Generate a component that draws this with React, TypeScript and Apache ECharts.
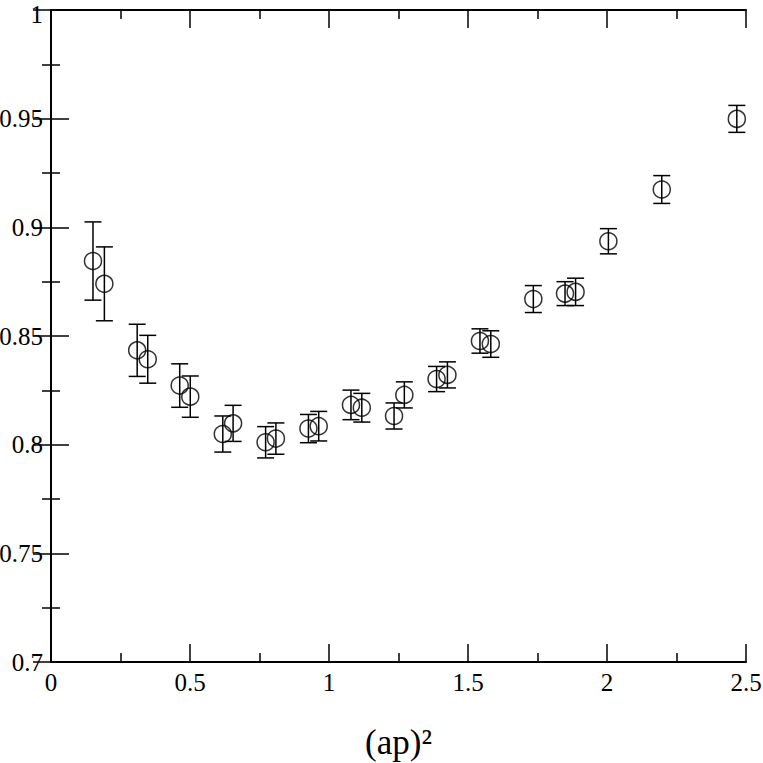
import React, { useEffect, useRef } from "react";
import * as echarts from "echarts";

const xValues = [0.151, 0.192, 0.310, 0.348, 0.463, 0.501, 0.618, 0.655, 0.772, 0.809, 0.926, 0.963, 1.079, 1.118, 1.234, 1.271, 1.387, 1.426, 1.543, 1.582, 1.735, 1.849, 1.887, 2.005, 2.197, 2.467];
const yValues = [0.8845, 0.874, 0.8434, 0.8393, 0.8272, 0.8221, 0.8049, 0.8098, 0.8011, 0.8028, 0.8074, 0.8085, 0.8183, 0.817, 0.8132, 0.8229, 0.8302, 0.8321, 0.8477, 0.8463, 0.867, 0.8695, 0.8703, 0.8936, 0.9174, 0.9499];
const yErrors = [0.018, 0.017, 0.012, 0.011, 0.010, 0.0095, 0.0083, 0.0083, 0.0072, 0.0072, 0.0065, 0.0068, 0.0068, 0.0066, 0.006, 0.006, 0.0058, 0.006, 0.0056, 0.0061, 0.0062, 0.0055, 0.0063, 0.0058, 0.0064, 0.0062];

const xAxisName = "(ap)\u00B2";

const FONT = "'Liberation Serif', 'Times New Roman', serif";

export default function App() {
  const ref = useRef<HTMLDivElement>(null);
  useEffect(() => {
    const chart = echarts.init(ref.current as HTMLDivElement, null, { renderer: "svg" });
    const points = xValues.map((x, i) => [x, yValues[i]]);
    const bars = xValues.map((x, i) => [x, yValues[i] - yErrors[i], yValues[i] + yErrors[i]]);
    const lineStyle = { color: "#000", width: 1.5 };
    const axisBase = {
      type: "value",
      axisLine: { show: true, lineStyle: { color: "#000", width: 2 } },
      axisTick: { show: true, inside: true, length: 18, lineStyle },
      minorTick: { show: true, splitNumber: 2, length: 9, lineStyle },
      splitLine: { show: false },
    };
    chart.setOption({
      animation: false,
      backgroundColor: "#fff",
      grid: { left: 51, right: 17, top: 10, bottom: 101, outerBoundsMode: "none", containLabel: false },
      xAxis: [
        {
          ...axisBase,
          min: 0,
          max: 2.5,
          interval: 0.5,
          position: "bottom",
          axisLabel: { color: "#000", fontFamily: FONT, fontSize: 25, margin: 8 },
          name: xAxisName,
          nameLocation: "middle",
          nameGap: 62,
          nameTextStyle: { fontFamily: FONT, fontSize: 35, color: "#000", lineHeight: 36 },
        },
        {
          ...axisBase,
          min: 0,
          max: 2.5,
          interval: 0.5,
          position: "top",
          axisLabel: { show: false },
        },
      ],
      yAxis: [
        {
          ...axisBase,
          min: 0.7,
          max: 1,
          interval: 0.05,
          position: "left",
          axisLabel: {
            color: "#000",
            fontFamily: FONT,
            fontSize: 25,
            margin: 8,
            lineHeight: 20,
            formatter: (v: number) => (v >= 1 ? `{t|${v}}` : `${v}`),
            rich: {
              t: { fontFamily: FONT, fontSize: 25, color: "#000", lineHeight: 20, padding: [8, 0, 0, 0] },
            },
          },
        },
        {
          ...axisBase,
          min: 0.7,
          max: 1,
          interval: 0.05,
          position: "right",
          axisLabel: { show: false },
        },
      ],
      series: [
        {
          type: "custom",
          xAxisIndex: 0,
          yAxisIndex: 0,
          data: bars,
          encode: { x: 0, y: [1, 2] },
          z: 2,
          renderItem: (params: any, api: any) => {
            const x = api.value(0);
            const pLo = api.coord([x, api.value(1)]);
            const pHi = api.coord([x, api.value(2)]);
            const hw = 8.5;
            const style = { stroke: "#000", lineWidth: 1.5 };
            return {
              type: "group",
              children: [
                { type: "line", shape: { x1: pLo[0], y1: pLo[1], x2: pHi[0], y2: pHi[1] }, style },
                { type: "line", shape: { x1: pLo[0] - hw, y1: pLo[1], x2: pLo[0] + hw, y2: pLo[1] }, style },
                { type: "line", shape: { x1: pHi[0] - hw, y1: pHi[1], x2: pHi[0] + hw, y2: pHi[1] }, style },
              ],
            };
          },
        },
        {
          type: "scatter",
          xAxisIndex: 0,
          yAxisIndex: 0,
          data: points,
          symbol: "circle",
          symbolSize: 17,
          itemStyle: { color: "rgba(0,0,0,0)", borderColor: "#000", borderWidth: 1.5 },
          z: 3,
        },
      ],
    });
    return () => chart.dispose();
  }, []);
  return (
    <div
      ref={ref}
      style={{ position: "absolute", left: 0, top: 0, width: 763, height: 763 }}
    />
  );
}
